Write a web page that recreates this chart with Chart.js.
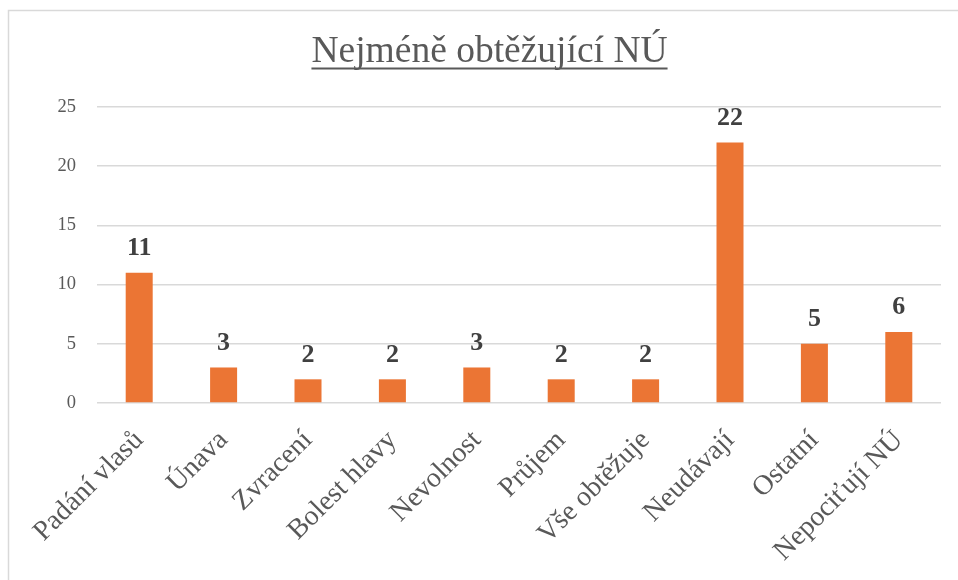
<!DOCTYPE html>
<html>
<head>
<meta charset="utf-8">
<script src="https://cdn.jsdelivr.net/npm/chart.js@4/dist/chart.umd.min.js"></script>
<style>
  html, body { margin: 0; padding: 0; background: #ffffff; }
  #wrap { position: relative; width: 958px; height: 580px; }
  canvas { display: block; }
</style>
</head>
<body>
<div id="wrap"><canvas id="c" width="958" height="580"></canvas></div>
<script>
const chartTitle = "Nejméně obtěžující NÚ";
const categories = ["Padání vlasů", "Únava", "Zvracení", "Bolest hlavy", "Nevolnost", "Průjem", "Vše obtěžuje", "Neudávají", "Ostatní", "Nepociťují NÚ"];
const values = [11, 3, 2, 2, 3, 2, 2, 22, 5, 6];
const yTicks = [0, 5, 10, 15, 20, 25];

const SERIF = "'Liberation Serif', 'Times New Roman', serif";
const TITLE_SIZE = 37.5;

const frameAndLabels = {
  id: 'frameAndLabels',
  beforeDraw(chart) {
    const ctx = chart.ctx;
    ctx.save();
    ctx.fillStyle = '#ffffff';
    ctx.fillRect(0, 0, chart.width, chart.height);
    ctx.strokeStyle = '#D9D9D9';
    ctx.lineWidth = 1.5;
    ctx.strokeRect(8.5, 10.5, chart.width + 20, chart.height + 20);
    ctx.restore();
  },
  afterDatasetsDraw(chart) {
    const ctx = chart.ctx;
    const meta = chart.getDatasetMeta(0);
    ctx.save();
    ctx.font = "bold 26px " + SERIF;
    ctx.fillStyle = '#404040';
    ctx.textAlign = 'center';
    ctx.textBaseline = 'alphabetic';
    meta.data.forEach((bar, i) => {
      ctx.fillText(String(chart.data.datasets[0].data[i]), bar.x, bar.y - 17.5);
    });
    ctx.restore();
  },
  afterDraw(chart) {
    const t = chart.titleBlock;
    if (!t) return;
    const ctx = chart.ctx;
    ctx.save();
    ctx.font = TITLE_SIZE + "px " + SERIF;
    const w = ctx.measureText(chartTitle).width;
    const cx = t.left + t.width / 2;
    ctx.strokeStyle = '#595959';
    ctx.lineWidth = 1.8;
    ctx.beginPath();
    ctx.moveTo(cx - w / 2, 68.5);
    ctx.lineTo(cx + w / 2, 68.5);
    ctx.stroke();
    ctx.restore();
  }
};

new Chart(document.getElementById('c'), {
  type: 'bar',
  data: {
    labels: categories,
    datasets: [{
      data: values,
      backgroundColor: '#EB7534',
      borderWidth: 0,
      barPercentage: 0.32,
      categoryPercentage: 1.0
    }]
  },
  options: {
    responsive: false,
    animation: false,
    devicePixelRatio: 1,
    layout: { padding: { left: 38, right: 17, top: 0, bottom: 0 } },
    plugins: {
      legend: { display: false },
      tooltip: { enabled: false },
      title: {
        display: true,
        text: chartTitle,
        color: '#595959',
        font: { family: SERIF, size: TITLE_SIZE, weight: 'normal', lineHeight: 1.2 },
        padding: { top: 30, bottom: 32 }
      }
    },
    scales: {
      x: {
        grid: { display: false, drawTicks: false },
        border: { display: false },
        ticks: {
          color: '#595959',
          font: { family: SERIF, size: 28 },
          minRotation: 45,
          maxRotation: 45,
          autoSkip: false,
          padding: 21
        },
        afterFit(scale) { scale.height = 177; }
      },
      y: {
        min: 0,
        max: 25,
        afterBuildTicks(scale) { scale.ticks = yTicks.map(v => ({ value: v })); },
        grid: { color: '#D9D9D9', lineWidth: 1.5, drawTicks: false },
        border: { display: false },
        ticks: {
          color: '#595959',
          font: { family: SERIF, size: 18.5 },
          padding: 21
        },
        afterFit(scale) { scale.width = 59; }
      }
    }
  },
  plugins: [frameAndLabels]
});
</script>
</body>
</html>
